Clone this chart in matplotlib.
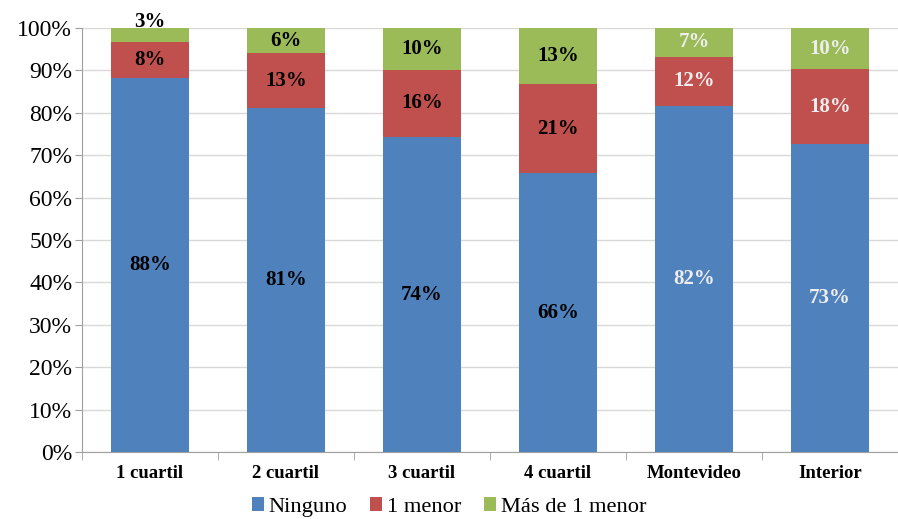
import numpy as np
import matplotlib.pyplot as plt

categories = ["1 cuartil", "2 cuartil", "3 cuartil", "4 cuartil", "Montevideo", "Interior"]
ninguno = [88.3, 81.2, 74.2, 65.7, 81.6, 72.6]
un_menor = [8.4, 12.8, 16.0, 21.0, 11.6, 17.7]
mas_de_uno = [3.3, 6.0, 9.8, 13.3, 6.8, 9.7]
series_names = ["Ninguno", "1 menor", "Más de 1 menor"]
colors = ["#4F81BD", "#C0504D", "#9BBB59"]
label_colors = ["black", "black", "black", "black", "#EEEEEE", "#EEEEEE"]

plt.rcParams['font.family'] = ['Liberation Serif', 'DejaVu Serif']

fig = plt.figure(figsize=(8.98, 5.19), dpi=100)
ax = fig.add_axes([82 / 898, 67 / 519, 816 / 898, 424 / 519])

x = np.arange(len(categories))
bottom = np.zeros(len(categories))
for vals, name, col in zip([ninguno, un_menor, mas_de_uno], series_names, colors):
    vals = np.array(vals)
    ax.bar(x, vals, width=0.57, bottom=bottom, color=col, label=name, zorder=2)
    for i, (v, b) in enumerate(zip(vals, bottom)):
        if v < 5:
            # small segment: Excel pushed the label above the bar
            ax.text(x[i], 99.0, f"{v:.0f}%", ha='center', va='bottom',
                    fontsize=15, fontweight='bold', color=label_colors[i], clip_on=False)
        else:
            ax.text(x[i], b + v / 2, f"{v:.0f}%", ha='center', va='center',
                    fontsize=15, fontweight='bold', color=label_colors[i])
    bottom += vals

ax.set_ylim(0, 100)
ax.set_xlim(-0.5, -0.5 + 816 / 137.5)
ax.set_yticks(np.arange(0, 101, 10))
ax.set_yticklabels([f"{t}%" for t in range(0, 101, 10)], fontsize=17)
ax.yaxis.grid(True, color='#D9D9D9', linewidth=1, zorder=0)
ax.tick_params(axis='y', length=5, color='#A0A0A0', pad=2)

ax.set_xticks(x)
ax.set_xticklabels(categories, fontsize=13.5, fontweight='bold')
ax.set_xticks(np.arange(-0.5, 6, 1), minor=True)
ax.tick_params(axis='x', which='major', length=0, pad=9)
ax.tick_params(axis='x', which='minor', length=6, color='#A0A0A0')

for s in ['top', 'right']:
    ax.spines[s].set_visible(False)
ax.spines['left'].set_color('#A0A0A0')
ax.spines['bottom'].set_color('#A0A0A0')

fig.legend(loc='center', bbox_to_anchor=(0.5, 12 / 519), ncol=3, frameon=False,
           fontsize=16.2, handlelength=0.55, handleheight=0.55, handletextpad=0.2,
           columnspacing=1.0)

fig.savefig("out.png", dpi=100)
